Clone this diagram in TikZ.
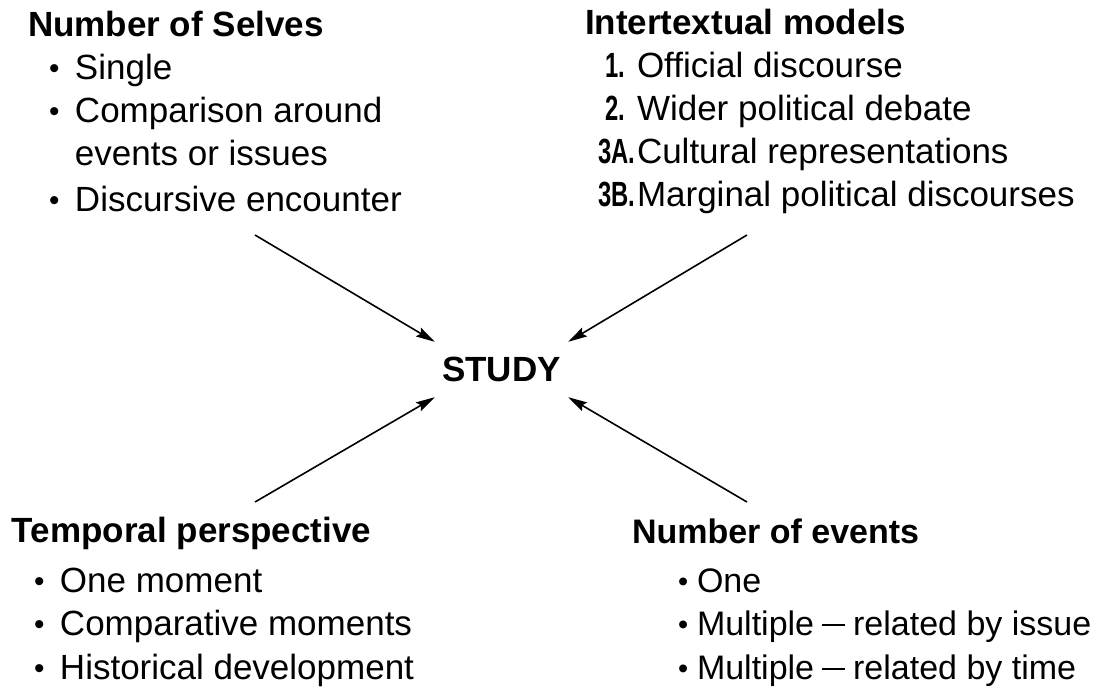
\documentclass[tikz,border=0pt]{standalone}
\usepackage{fontspec}
\setmainfont{Liberation Sans}
\usetikzlibrary{arrows.meta}

\tikzset{
  block/.style={anchor=base west, inner sep=0pt, outer sep=0pt, align=left},
  arr/.style={line width=1.6pt, -{Stealth[length=19pt, width=10pt, inset=3pt]}}
}
\newcommand{\bul}[2]{\hspace*{#1}\makebox[#2][l]{\raisebox{1pt}{\scalebox{0.85}{\textbullet}}}}
\newcommand{\numlab}[3]{\hspace*{#1}\makebox[#2][l]{\scalebox{0.68}[1]{\bfseries #3}}}
\newcommand{\emrule}{\hspace{8pt}\rule[9pt]{23pt}{1.6pt}\hspace{8pt}}

\begin{document}
\begin{tikzpicture}[x=1pt, y=-1pt, font=\fontsize{35}{43}\selectfont]
    \useasboundingbox (0,0) rectangle (1109,689);
    % four groups of choices
    \node[block] (selves) at (28,36) {\begin{tabular}[t]{@{}l@{}l@{}}
        \multicolumn{2}{@{}l@{}}{\bfseries Number of Selves}\\
        \bul{21pt}{26pt} & Single\\
        \bul{21pt}{26pt} & Comparison around\\
                         & events or issues\\[3pt]
        \bul{21pt}{26pt} & Discursive encounter
    \end{tabular}};
    \node[block] (models) at (585,34) {\begin{tabular}[t]{@{}l@{}l@{}}
        \multicolumn{2}{@{}l@{}}{\bfseries Intertextual models}\\
        \numlab{20pt}{32pt}{1.}  & Official discourse\\
        \numlab{20pt}{32pt}{2.}  & Wider political debate\\
        \numlab{13pt}{39pt}{3A.} & Cultural representations\\
        \numlab{13pt}{39pt}{3B.} & Marginal political discourses
    \end{tabular}};
    \node[block] (temporal) at (12,542) {\begin{tabular}[t]{@{}l@{}l@{}}
        \multicolumn{2}{@{}l@{}}{\bfseries Temporal perspective}\\[7pt]
        \bul{22pt}{26pt} & One moment\\
        \bul{22pt}{26pt} & Comparative moments\\[1pt]
        \bul{22pt}{26pt} & Historical development
    \end{tabular}};
    \node[block, font=\fontsize{34}{43}\selectfont] (events) at (632,543) {\begin{tabular}[t]{@{}l@{}l@{}}
        \multicolumn{2}{@{}l@{}}{\bfseries Number of events}\\[6pt]
        \bul{46pt}{19pt} & One\\
        \bul{46pt}{19pt} & Multiple\emrule related by issue\\[1pt]
        \bul{46pt}{19pt} & Multiple\emrule related by time
    \end{tabular}};
    % centre
    \node[inner sep=0pt, minimum width=133pt, minimum height=55pt, font=\fontsize{35}{43}\selectfont\bfseries]
        (study) at (501.5,369.5) {STUDY};
    % arrow tails
    \coordinate (selvesend) at (255,235);
    \coordinate (modelsend) at (747,235);
    \coordinate (temporalend) at (255,502);
    \coordinate (eventsend) at (747,502);
    \draw[arr] (selvesend) -- (study.north west);
    \draw[arr] (modelsend) -- (study.north east);
    \draw[arr] (temporalend) -- (study.south west);
    \draw[arr] (eventsend) -- (study.south east);
\end{tikzpicture}
\end{document}
